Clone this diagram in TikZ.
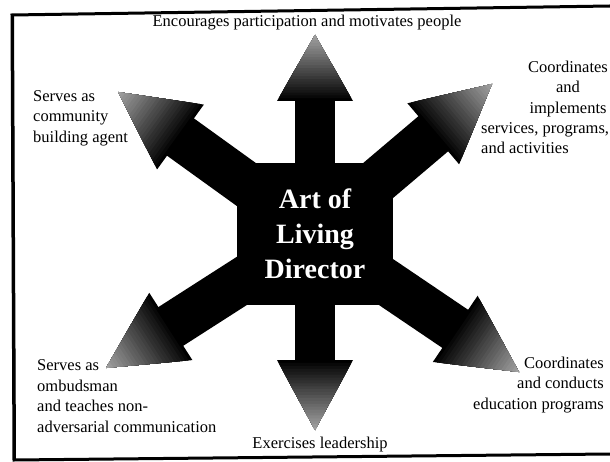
\documentclass[tikz,border=0pt]{standalone}
\usepackage{fontspec}
\setmainfont{Liberation Serif}
\usetikzlibrary{calc}

\begin{document}
\begin{tikzpicture}[x=1pt, y=-1pt,
    note/.style={inner sep=0pt, font=\fontsize{16.5}{20.5}\selectfont},
    frame/.style={line width=3pt, line cap=round},
    director/.style={fill=black, text=white, inner sep=0pt,
                     minimum width=156, minimum height=142, align=center,
                     font=\bfseries\fontsize{28}{35}\selectfont}]
    \useasboundingbox (0,0) rectangle (610,462);

    % border, open on the right
    \draw[frame] (610,6) -- (12,15) -- (14,460) -- (610,454);
    \draw[line width=2pt] (13,15) -- (15,460);

    \coordinate (hub) at (315,234);
    \coordinate (tip-up) at (315,35);
    \coordinate (tip-down) at (315,430);
    \coordinate (tip-nw) at (118,92);
    \coordinate (tip-ne) at (492,84);
    \coordinate (tip-sw) at (106,368);
    \coordinate (tip-se) at (519,372);

    % arrows: name / head length / head half width / shaft half width
    \foreach \tip/\hlen/\hw/\sw in {up/66/38/20, down/70/38/20, nw/77/40/23,
                                     ne/77/40/23, sw/77/40/23, se/77/40/23} {
      \coordinate (b) at ($(tip-\tip)!\hlen pt!(hub)$);
      \coordinate (s) at ($(tip-\tip)!\hlen pt-3pt!(hub)$);
      \coordinate (h1) at ($(b)!\hw pt!90:(tip-\tip)$);
      \coordinate (h2) at ($(b)!\hw pt!-90:(tip-\tip)$);
      \fill ($(hub)!\sw pt!90:(tip-\tip)$) -- ($(s)!\sw pt!90:(tip-\tip)$)
         -- ($(s)!\sw pt!-90:(tip-\tip)$) -- ($(hub)!\sw pt!-90:(tip-\tip)$) -- cycle;
      % head gets lighter towards the point
      \foreach \k [evaluate=\k as \g using {int(35+65*\k/24)}] in {24,...,1}
        \fill[black!\g] (tip-\tip) -- ($(tip-\tip)!\k/24!(h1)$)
           -- ($(tip-\tip)!\k/24!(h2)$) -- cycle;
    }

    \node[director] (dir) at (hub) {Art of\\Living\\Director};

    \node[note] (participation) at (307,23) {Encourages participation and motivates people};
    \node[note, anchor=west, align=left] (community) at (33,118)
      {Serves as\\community\\building agent};
    \node[note, align=center] (coordinates) at (568,89)
      {Coordinates\\and\\implements};
    \node[note, anchor=west, align=left] (services) at (481,138)
      {services, programs,\\and activities};
    \node[note, anchor=west, align=left] (ombudsman) at (37,396)
      {Serves as\\ombudsman\\and teaches non-\\adversarial communication};
    \node[note] (leadership) at (320,445) {Exercises leadership};
    \node[note, anchor=east, align=right] (education) at (604,385)
      {Coordinates\\and conducts\hspace*{24pt}\\education programs};
\end{tikzpicture}
\end{document}
